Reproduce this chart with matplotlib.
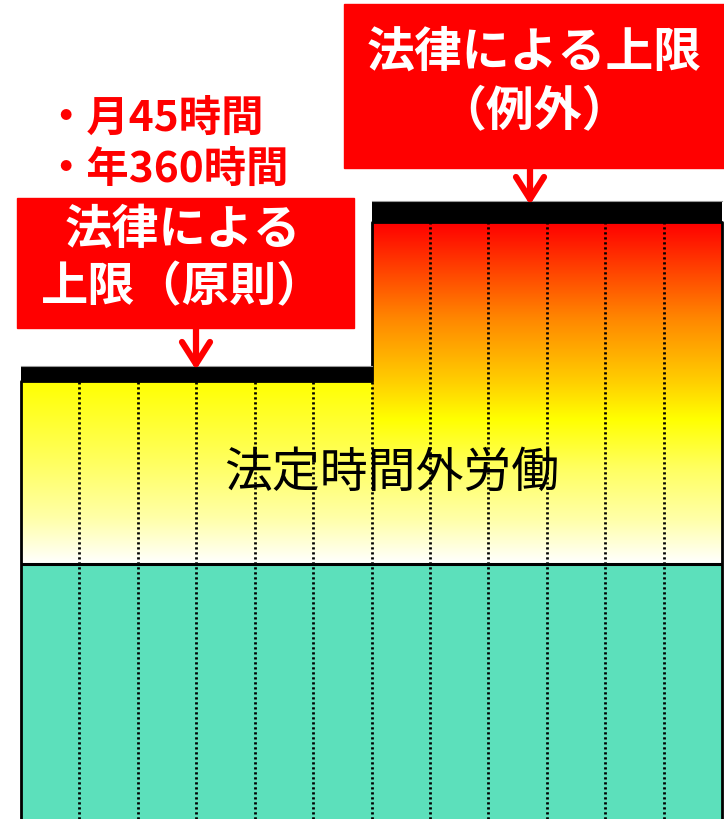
import numpy as np
import matplotlib
matplotlib.use("Agg")
import matplotlib.pyplot as plt
from matplotlib.colors import LinearSegmentedColormap
from matplotlib.patches import Rectangle

plt.rcParams['font.family'] = ['Noto Sans CJK JP', 'DejaVu Sans']

# --- data (hours per month) ---
months = np.arange(12)
base_hours = 62.7                       # statutory working time (teal)
overtime_limit = [45] * 6 + [84] * 6    # principle (first 6) / exception (last 6)
cap_hours = [3.7] * 6 + [5.2] * 6       # thickness of the black limit bars
bullet_lines = ["・月45時間", "・年360時間"]
box_left_text = "法律による\n上限（原則）"
box_right_text = "法律による上限\n（例外）"
middle_text = "法定時間外労働"

teal = "#5CE0BB"
red = "#FF0000"

W, H = 724, 820
fig = plt.figure(figsize=(W / 100, H / 100), dpi=100)
ax = fig.add_axes([0, 0, 1, 1])
col_px = 58.42
ax.axis('off')

# pixel -> axes fraction helpers for annotations
fx = lambda px: px / W
fy = lambda py: 1 - py / H

# statutory part
ax.bar(months, [base_hours] * 12, width=1, align='edge', color=teal, linewidth=0)

# gradients for the overtime part
cmap_left = LinearSegmentedColormap.from_list(
    "left", [(0, "#FFFFFF"), (0.25, "#FFFFA8"), (0.55, "#FFFF60"), (1, "#FFFF00")])
cmap_right = LinearSegmentedColormap.from_list(
    "right", [(0, "#FFFFFF"), (0.13, "#FFFFA8"), (0.28, "#FFFF60"), (0.424, "#FFFF00"),
              (0.53, "#FFD000"), (0.716, "#FF8800"), (1, "#FF0000")])
grad = np.linspace(0, 1, 256).reshape(-1, 1)
ax.imshow(grad, cmap=cmap_left, origin='lower', aspect='auto',
          extent=[0, 6, base_hours, base_hours + overtime_limit[0]], zorder=1)
ax.imshow(grad, cmap=cmap_right, origin='lower', aspect='auto',
          extent=[6, 12, base_hours, base_hours + overtime_limit[6]], zorder=1)
ax.set_xlim(-21 / col_px, (W - 21) / col_px)
ax.set_ylim(0, H / 4.0667)

# dotted month separators
for m in range(1, 12):
    top = base_hours + min(overtime_limit[m - 1], overtime_limit[m])
    ax.vlines(m, 0, top, colors='black', linestyles=(0, (0.8, 1.0)), linewidth=2.0, zorder=3)

# outline
tops = [base_hours + v for v in overtime_limit]
ax.plot([0, 0, 6, 6, 12, 12], [0, tops[0], tops[0], tops[6], tops[6], 0],
        color='black', linewidth=2, zorder=4)
ax.hlines(base_hours, 0, 12, colors='black', linewidth=2.2, zorder=4)

# black limit bars
ax.bar(months, cap_hours, bottom=tops, width=1, align='edge', color='black',
       linewidth=0, zorder=5)
ax.plot([0, 6], [tops[0] + cap_hours[0]] * 2, color='#999999', linewidth=0.8, zorder=6)
ax.plot([6, 12], [tops[6] + cap_hours[6]] * 2, color='#999999', linewidth=0.8, zorder=6)

# middle label
ax.text(fx(392), fy(473), middle_text, transform=ax.transAxes, ha='center', va='center',
        fontsize=34.5, color='black', zorder=7)

# red boxes
ax.add_patch(Rectangle((fx(17), fy(329)), fx(354) - fx(17), fy(199) - fy(329),
                       transform=ax.transAxes, color=red, zorder=8, clip_on=False))
ax.add_patch(Rectangle((fx(344), fy(169)), fx(724) - fx(344), fy(5) - fy(169),
                       transform=ax.transAxes, color=red, zorder=8, clip_on=False))
ax.text(fx(183), fy(259), box_left_text, transform=ax.transAxes, ha='center', va='center',
        fontsize=34, fontweight='bold', color='white', linespacing=1.25, zorder=9)
ax.text(fx(534), fy(82), box_right_text, transform=ax.transAxes, ha='center', va='center',
        fontsize=34.5, fontweight='bold', color='white', linespacing=1.25, zorder=9)

# bullet text above left box
for line, ypx in zip(bullet_lines, [119, 170]):
    ax.text(fx(44), fy(ypx), line, transform=ax.transAxes, ha='left', va='center',
            fontsize=30.5, fontweight='bold', color=red, zorder=9)

# arrows
for xa, y0, y1 in [(196, 329, 365), (530, 169, 200)]:
    kw = dict(transform=ax.transAxes, color=red, linewidth=4.5,
              solid_capstyle='round', zorder=9, clip_on=False)
    ax.plot([fx(xa), fx(xa)], [fy(y0), fy(y1)], **kw)
    ax.plot([fx(xa - 14), fx(xa), fx(xa + 14)], [fy(y1 - 22), fy(y1), fy(y1 - 22)],
            solid_joinstyle='round', **kw)

fig.savefig("out.png", dpi=100)
